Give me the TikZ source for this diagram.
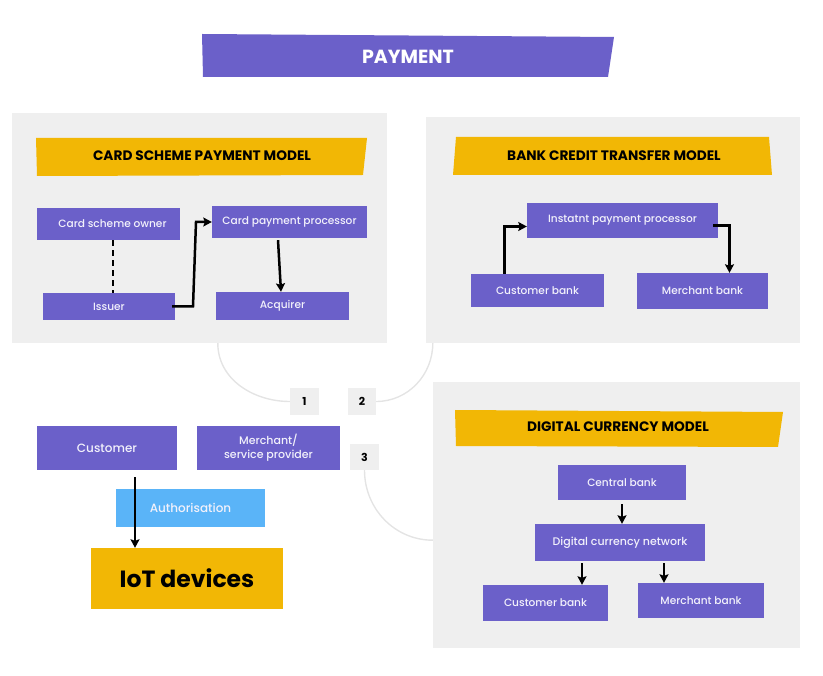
\documentclass[tikz,border=0pt]{standalone}
\usepackage{fontspec}
\setmainfont{Poppins}
\IfFontExistsTF{Poppins Medium}{\newfontfamily\medfont{Poppins Medium}}{\newfontfamily\medfont{Poppins}}
\usetikzlibrary{arrows.meta}
\definecolor{purp}{HTML}{6B60C9}
\definecolor{ylw}{HTML}{F2B705}
\definecolor{pgray}{HTML}{EFEFEF}
\definecolor{skyb}{HTML}{5AB4F8}
\definecolor{curvegray}{HTML}{E4E4E4}
\definecolor{boxtext}{HTML}{F2F1FB}
\begin{document}
\begin{tikzpicture}[x=1pt,y=-1pt,
  panel/.style={fill=pgray, inner sep=0, draw=none},
  pbox/.style={fill=purp, text=boxtext, font=\medfont\fontsize{10.6}{12}\selectfont, inner sep=0, align=center},
  hdrfill/.style={fill=ylw},
  hdr/.style={font=\bfseries\fontsize{13.7}{15}\selectfont, text=black, inner sep=0},
  numbox/.style={fill=pgray, inner sep=0, font=\bfseries\fontsize{11}{12}\selectfont, text=black},
  arr/.style={line width=2.5pt, -{Stealth[length=8.5pt,width=9pt,inset=1.5pt]}},
  dashline/.style={line width=2.5pt, dash pattern=on 6pt off 4pt},
  curve/.style={line width=1.4pt, draw=curvegray}
]
\useasboundingbox (0,0) rectangle (823,676);

% title banner
\fill[purp] (202,34) -- (614,37) -- (608,77) -- (203,77) -- cycle;
\node[font=\bfseries\fontsize{19}{21}\selectfont, text=white] (title) at (408,57) {PAYMENT};

% panels
\node[panel, minimum width=375pt, minimum height=230pt] (cardpanel) at (199.5,228) {};
\node[panel, minimum width=374pt, minimum height=226pt] (bankpanel) at (613,230) {};
\node[panel, minimum width=367pt, minimum height=266pt] (digpanel) at (616.5,515) {};

% headers
\fill[hdrfill] (36,138) -- (367,138) -- (363,175) -- (37,176) -- cycle;
\node[hdr] (cardhdr) at (202,156) {CARD SCHEME PAYMENT MODEL};
\fill[hdrfill] (456,137) -- (769,137) -- (772,175) -- (453,175) -- cycle;
\node[hdr] (bankhdr) at (614,156) {BANK CREDIT TRANSFER MODEL};
\fill[hdrfill] (455,410) -- (783,412) -- (778,447) -- (456,446) -- cycle;
\node[hdr] (dighdr) at (618,427) {DIGITAL CURRENCY MODEL};

% card scheme boxes
\node[pbox, minimum width=143pt, minimum height=32pt] (cso) at (108.5,224) {\hspace*{8pt}Card scheme owner};
\node[pbox, minimum width=155pt, minimum height=32pt] (cpp) at (289.5,222) {Card payment processor};
\node[pbox, minimum width=132pt, minimum height=27pt] (iss) at (109,306.5) {Issuer};
\node[pbox, minimum width=133pt, minimum height=28pt] (acq) at (282.5,306) {Acquirer};

% bank credit boxes
\node[pbox, minimum width=191pt, minimum height=35pt] (ipp) at (622.5,220.5) {Instatnt payment processor};
\node[pbox, minimum width=133pt, minimum height=33pt] (cb1) at (537.5,290.5) {Customer bank};
\node[pbox, minimum width=131pt, minimum height=36pt] (mb1) at (702.5,291) {Merchant bank};

% digital currency boxes
\node[pbox, minimum width=128pt, minimum height=35pt] (cbk) at (622,482.5) {Central bank};
\node[pbox, minimum width=170pt, minimum height=37pt, font=\medfont\fontsize{11}{12}\selectfont] (dcn) at (620,542.5) {Digital currency network};
\node[pbox, minimum width=125pt, minimum height=36pt] (cb2) at (545.5,603) {Customer bank};
\node[pbox, minimum width=126pt, minimum height=35pt] (mb2) at (701,600.5) {Merchant bank};

% bottom left
\node[pbox, minimum width=140pt, minimum height=44pt, font=\medfont\fontsize{12}{13}\selectfont] (cust) at (107,448) {Customer};
\node[pbox, minimum width=143pt, minimum height=44pt, font=\medfont\fontsize{11}{13.5}\selectfont] (msp) at (268.5,448) {Merchant/\\service provider};
\node[fill=skyb, text=boxtext, font=\medfont\fontsize{12}{13}\selectfont, inner sep=0, minimum width=149pt, minimum height=38pt] (auth) at (190.5,508) {Authorisation};
\node[fill=ylw, text=black, font=\bfseries\fontsize{23.5}{26}\selectfont, inner sep=0, minimum width=192pt, minimum height=61pt] (iot) at (187,578.5) {IoT devices};

% number boxes
\node[numbox, minimum width=29pt, minimum height=27pt] (n1) at (304.5,401.5) {1};
\node[numbox, minimum width=28pt, minimum height=27pt] (n2) at (362,401.5) {2};
\node[numbox, minimum width=29pt, minimum height=26pt] (n3) at (364.5,457) {3};

% curves
\coordinate (cp1) at ([xshift=206pt]cardpanel.south west);
\coordinate (cp2) at ([xshift=7pt]bankpanel.south west);
\coordinate (cp3) at ([yshift=108pt]digpanel.south west);
\draw[curve] (cp1) to[out=-90, in=180] (n1.west);
\draw[curve] (n2.east) to[out=0, in=-90] (cp2);
\draw[curve] (n3.south) to[out=-90, in=180] (cp3);

% connectors: card scheme
\draw[dashline] ([xshift=4.5pt]cso.south) -- ([xshift=4pt]iss.north);
\coordinate (k1) at (196,0);
\draw[arr] ([xshift=-3pt]iss.east) -- ([xshift=-3pt]iss.east -| k1) -- (k1 |- cpp.west) -- (cpp.west);
\draw[arr] ([xshift=-11.5pt, yshift=-2pt]cpp.south) -- ([xshift=-1.5pt]acq.north);

% connectors: bank credit
\draw[arr] ([xshift=-33pt]cb1.north) |- ([yshift=-6pt]ipp.west);
\draw[arr] ([xshift=-5pt, yshift=-5pt]ipp.east) -| ([xshift=27pt]mb1.north);

% connectors: digital currency
\draw[arr] ([yshift=-4pt]cbk.south) -- (cbk.south |- dcn.north);
\coordinate (d1) at ([xshift=36.5pt]cb2.north);
\coordinate (d2) at ([xshift=-37pt]mb2.north);
\draw[arr] ([yshift=-2pt]dcn.south -| d1) -- (d1);
\draw[arr] ([yshift=-2pt]dcn.south -| d2) -- (d2);

% customer to IoT
\coordinate (c1) at ([xshift=28pt, yshift=-7pt]cust.south);
\draw[arr] (c1) -- (c1 |- iot.north);
\end{tikzpicture}
\end{document}
